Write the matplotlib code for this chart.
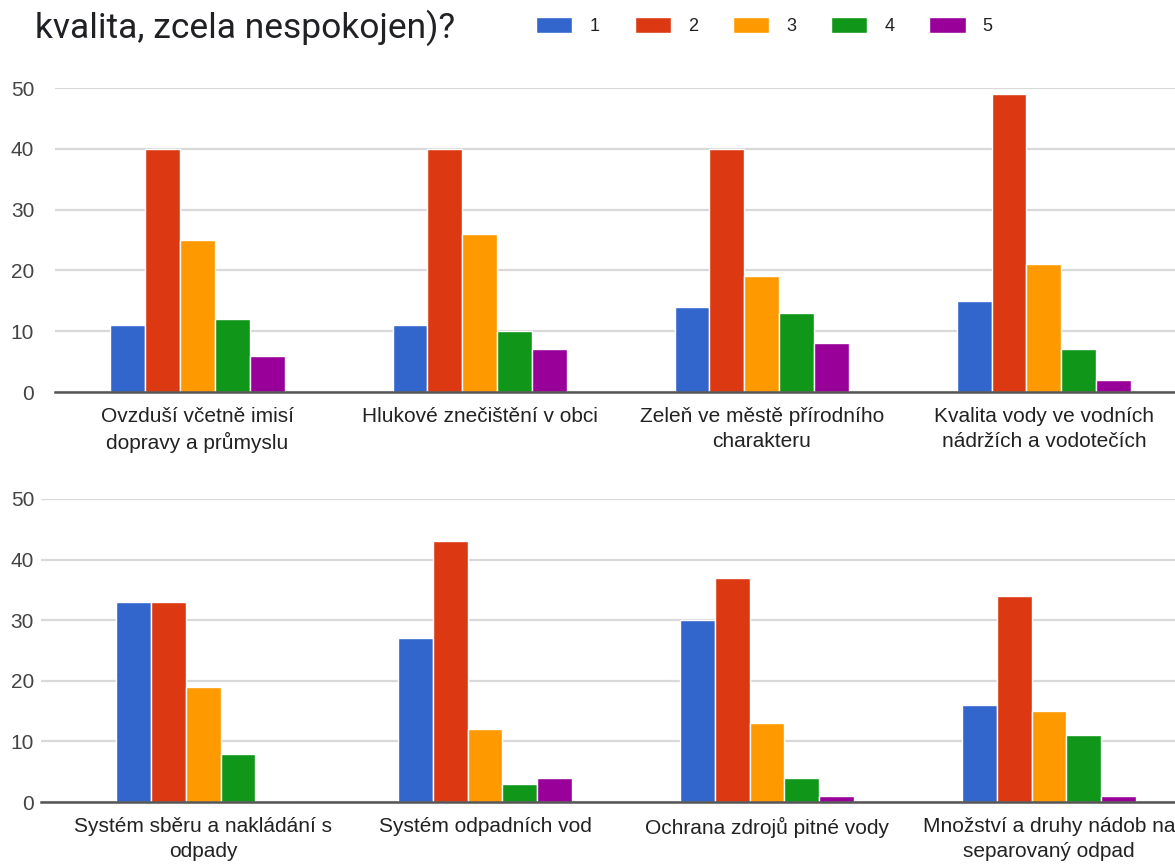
import numpy as np
import matplotlib
matplotlib.use('Agg')
import matplotlib.pyplot as plt

# answer scale 1..5 (series)
series = ['1', '2', '3', '4', '5']
colors = ['#3366cc', '#dc3912', '#ff9900', '#109618', '#990099']

top_categories = ['Ovzduší včetně imisí\ndopravy a průmyslu',
                  'Hlukové znečištění v obci',
                  'Zeleň ve městě přírodního\ncharakteru',
                  'Kvalita vody ve vodních\nnádržích a vodotečích']
top_values = [[11, 11, 14, 15],
              [40, 40, 40, 49],
              [25, 26, 19, 21],
              [12, 10, 13, 7],
              [6, 7, 8, 2]]

bottom_categories = ['Systém sběru a nakládání s\nodpady',
                     'Systém odpadních vod',
                     'Ochrana zdrojů pitné vody',
                     'Množství a druhy nádob na\nseparovaný odpad']
bottom_values = [[33, 27, 30, 16],
                 [33, 43, 37, 34],
                 [19, 12, 13, 15],
                 [8, 3, 4, 11],
                 [0, 4, 1, 1]]

yticks = [0, 10, 20, 30, 40, 50]

plt.rcParams['font.family'] = ['Liberation Sans', 'DejaVu Sans']

W, H = 1175, 865
fig = plt.figure(figsize=(W / 100, H / 100), dpi=100)


def draw_panel(ax, categories, values, ypad):
    x = np.arange(len(categories))
    slot = 0.1234
    bars = []
    for i, vals in enumerate(values):
        b = ax.bar(x + (i - 2) * slot, vals, width=slot, color=colors[i],
                   edgecolor='white', linewidth=1.0, zorder=3, label=series[i])
        bars.append(b)
    ax.set_ylim(0, 50)
    ax.set_yticks(yticks)
    ax.set_xticks(x)
    ax.set_xticklabels(categories, fontsize=15, color='#222222', linespacing=1.35)
    ax.tick_params(axis='x', length=0, pad=11)
    ax.tick_params(axis='y', length=0, pad=ypad, labelsize=15, labelcolor='#444444')
    ax.grid(axis='y', color='#d9d9d9', linewidth=1.6, zorder=0)
    for s in ['top', 'right', 'left']:
        ax.spines[s].set_visible(False)
    ax.spines['bottom'].set_color('#555555')
    ax.spines['bottom'].set_linewidth(1.8)
    ax.spines['bottom'].set_zorder(4)
    return bars


# top panel
ax1 = fig.add_axes([55 / W, (H - 392) / H, (W - 55) / W, 304 / H])
bars = draw_panel(ax1, top_categories, top_values, 15)
ax1.set_xlim(-0.505, 3.465)

# bottom panel
ax2 = fig.add_axes([41 / W, (H - 802) / H, (W - 41) / W, 303 / H])
draw_panel(ax2, bottom_categories, bottom_values, 5)
ax2.set_xlim(-0.575, 3.447)

fig.text(35 / W, (H - 28) / H, 'kvalita, zcela nespokojen)?', fontsize=25.5,
         family=['Roboto', 'DejaVu Sans'], color='#202124', va='center', ha='left')

fig.legend(handles=bars, labels=series, ncol=5, loc='center left',
           bbox_to_anchor=(520 / W, (H - 26) / H), frameon=False, fontsize=13,
           handlelength=2.0, handleheight=1.0, handletextpad=0.95,
           columnspacing=1.94, labelcolor='#222222')

fig.savefig('out.png', dpi=100)
